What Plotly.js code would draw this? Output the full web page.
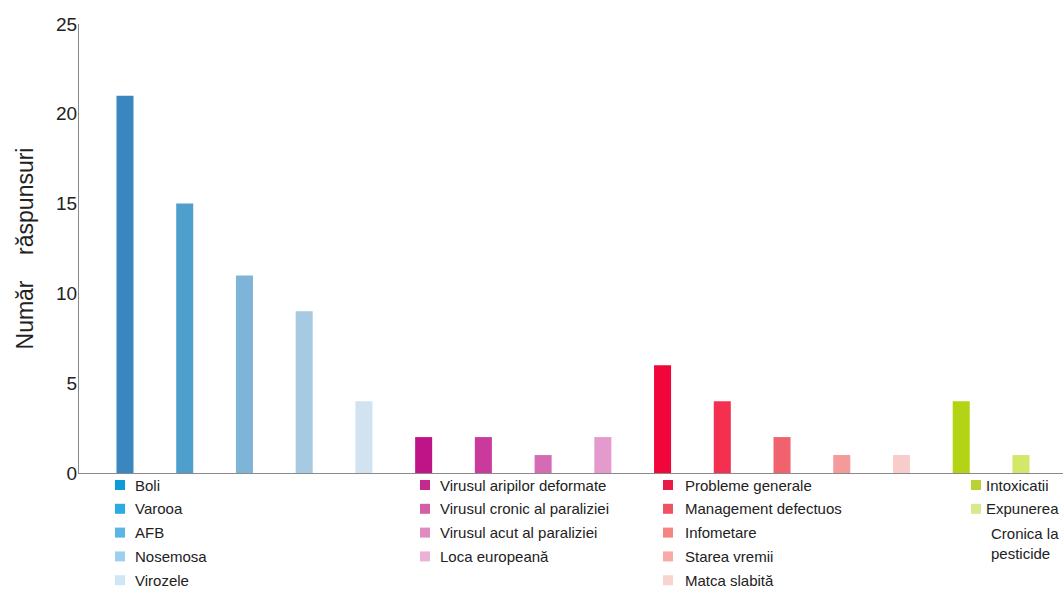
<!DOCTYPE html>
<html>
<head>
<meta charset="utf-8">
<script src="https://cdn.plot.ly/plotly-3.0.1.min.js"></script>
<style>html,body{margin:0;padding:0;background:#fff;}#chart{width:1063px;height:589px;}</style>
</head>
<body>
<div id="chart"></div>
<script>
const categories = ['Boli','Varooa','AFB','Nosemosa','Virozele',
  'Virusul aripilor deformate','Virusul cronic al paraliziei','Virusul acut al paraliziei','Loca europeană',
  'Probleme generale','Management defectuos','Infometare','Starea vremii','Matca slabită',
  'Intoxicatii','Expunerea Cronica la pesticide'];
const values = [21,15,11,9,4, 2,2,1,2, 6,4,2,1,1, 4,1];
const barColors = ['#3a87c0','#4f9fcc','#7eb4d7','#a7cae3','#d1e3f0',
  '#bf1488','#c93a9c','#d66bb5','#e49acd',
  '#f0063a','#f52f50','#f1626f','#f39a9a','#f8cccb',
  '#b3d414','#d3e86a'];
const legendColors = ['#0a9bd8','#2aabe2','#5bb5e6','#9dd0ef','#cfe6f7',
  '#c42a8e','#d45ea8','#e08cc0','#ebb2d6',
  '#ea1a48','#ef5362','#f38583','#f7aaa6','#fbd3ce',
  '#bcd234','#d8e88c'];
const legendLabels = ['Boli','Varooa','AFB','Nosemosa','Virozele',
  'Virusul aripilor deformate','Virusul cronic al paraliziei','Virusul acut al paraliziei','Loca europeană',
  'Probleme generale','Management defectuos','Infometare','Starea vremii','Matca slabită',
  'Intoxicatii','Expunerea'];
const legendGroup = [0,0,0,0,0, 1,1,1,1, 2,2,2,2,2, 3,3];
const yTicks = [0,5,10,15,20,25];

// layout geometry (pixels)
const W = 1063, H = 589, ML = 79, MR = 0, MT = 24, MB = 116;
const PW = W - ML - MR, PH = H - MT - MB;
const px = x => (x - ML) / PW;
const py = y => (H - MB - y) / PH;
const squareX = [115, 420, 663, 971];
const textX = [133, 438, 683, 984];
const rowY0 = 485, rowStep = 23.8, sq = 10;

const shapes = [], annotations = [];
const rowCount = [0,0,0,0];
categories.forEach((c, i) => {
  const g = legendGroup[i];
  const r = rowCount[g]++;
  const yc = rowY0 + r * rowStep;
  shapes.push({type:'rect', xref:'paper', yref:'paper',
    x0:px(squareX[g]), x1:px(squareX[g]+sq), y0:py(yc+sq/2), y1:py(yc-sq/2),
    fillcolor:legendColors[i], line:{width:0}});
  annotations.push({xref:'paper', yref:'paper', x:px(textX[g]), y:py(yc),
    xanchor:'left', yanchor:'middle', showarrow:false, text:legendLabels[i],
    font:{family:'Liberation Sans, Arial, sans-serif', size:15, color:'#222'}});
});
// continuation of last legend label
annotations.push({xref:'paper', yref:'paper', x:px(989), y:py(rowY0 + 2*rowStep - 10),
  xanchor:'left', yanchor:'top', align:'left', showarrow:false, text:'Cronica la<br>pesticide',
  font:{family:'Liberation Sans, Arial, sans-serif', size:15, color:'#222'}});

const trace = {
  type:'bar', x:categories, y:values, width:0.285,
  marker:{color:barColors, line:{width:0}}, hoverinfo:'none', showlegend:false
};

const layout = {
  width:W, height:H, margin:{l:ML, r:MR, t:MT, b:MB, pad:0},
  paper_bgcolor:'#fff', plot_bgcolor:'#fff', showlegend:false,
  font:{family:'Liberation Sans, Arial, sans-serif', color:'#222'},
  xaxis:{type:'category', range:[-0.77, 15.704], showticklabels:false, ticks:'',
    showgrid:false, zeroline:false, showline:true, linecolor:'#8a8a8a', linewidth:1, fixedrange:true},
  yaxis:{range:[0,25], tickvals:yTicks, ticktext:yTicks.map(String), ticks:'',
    showgrid:false, zeroline:false, showline:true, linecolor:'#8a8a8a', linewidth:1,
    tickfont:{size:19, color:'#222'}, ticklabelstandoff:-3, automargin:false,
    title:{text:'Număr\u00a0\u00a0\u00a0\u00a0răspunsuri', font:{size:23, color:'#222'}, standoff:16},
    fixedrange:true},
  shapes:shapes, annotations:annotations, hovermode:false
};

Plotly.newPlot('chart', [trace], layout, {displayModeBar:false, staticPlot:true});
</script>
</body>
</html>
